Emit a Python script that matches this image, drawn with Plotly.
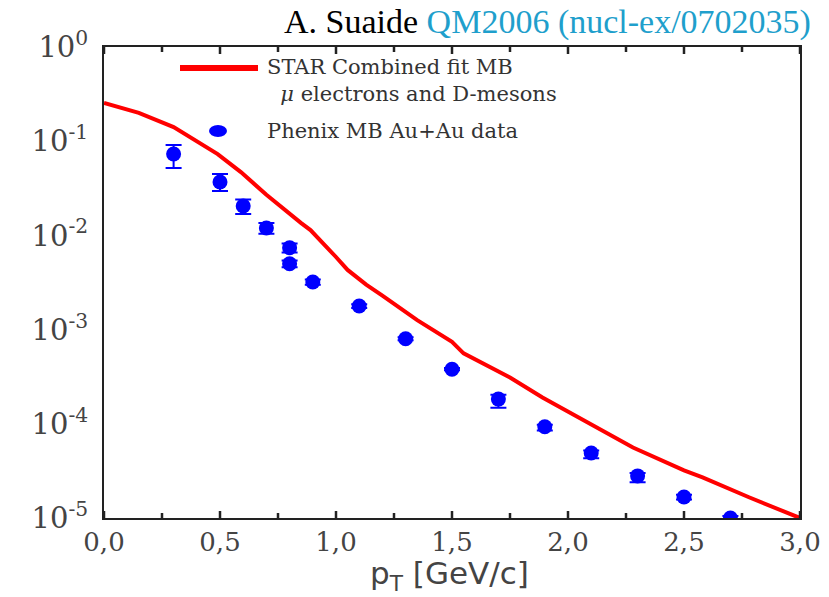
import math
import plotly.graph_objects as go

# STAR combined fit (mu, electrons and D-mesons), minimum bias
fit_pt = [0.0, 0.15, 0.30, 0.49, 0.59, 0.70, 0.85, 0.89, 1.00, 1.05, 1.13, 1.20,
          1.35, 1.50, 1.55, 1.75, 1.89, 2.00, 2.28, 2.50, 2.58, 2.78, 3.00]
fit_val = [0.255, 0.20, 0.141, 0.073, 0.047, 0.027, 0.0135, 0.0114, 0.0059, 0.0043,
           0.0030, 0.0023, 0.00126, 0.00074, 0.00056, 0.00031, 0.00019, 0.000134,
           5.6e-5, 3.2e-5, 2.7e-5, 1.66e-5, 1.0e-5]

# PHENIX minimum-bias Au+Au data
phx_pt = [0.3, 0.5, 0.6, 0.7, 0.8, 0.8, 0.9, 1.1, 1.3, 1.5, 1.7, 1.9, 2.1, 2.3, 2.5, 2.7]
phx_val = [0.073, 0.0369, 0.0205, 0.012, 0.0074, 0.0050, 0.0032, 0.00178, 0.00080,
           0.00038, 0.000183, 9.3e-5, 4.9e-5, 2.8e-5, 1.67e-5, 1.0e-5]
phx_err_up = [0.018, 0.008, 0.0035, 0.0015, 0.0008, 0.0004, 0.0002, 0.00008, 0.00003,
              0.00001, 0.00002, 0.000005, 0.000003, 0.000002, 0.000001, 0.0000005]
phx_err_dn = [0.021, 0.0073, 0.0036, 0.0016, 0.0008, 0.0004, 0.0002, 0.00008, 0.00003,
              0.00001, 0.000035, 0.000008, 0.000006, 0.000004, 0.000001, 0.0000005]

x_ticks = [0.0, 0.5, 1.0, 1.5, 2.0, 2.5, 3.0]
x_labels = ["0,0", "0,5", "1,0", "1,5", "2,0", "2,5", "3,0"]
x_minor = [0.25, 0.75, 1.25, 1.75, 2.25, 2.75]
y_ticks = [1e-5, 1e-4, 1e-3, 1e-2, 1e-1, 1]
y_labels = ["10<sup>-5</sup>", "10<sup>-4</sup>", "10<sup>-3</sup>",
            "10<sup>-2</sup>", "10<sup>-1</sup>", "10<sup>0</sup>"]
y_minor = [m * 10.0 ** e for e in range(-5, 0) for m in range(2, 10)]

X_RANGE = [0, 3]
Y_RANGE = [-5, 0]

W, H = 829, 597
ML, MR, MT, MB = 104, 29, 47, 79
PW, PH = W - ML - MR, H - MT - MB
AX = "#222222"


def px(x):
    return (x - ML) / PW


def py(y):
    return (H - MB - y) / PH


fig = go.Figure()
fig.add_trace(go.Scatter(
    x=fit_pt, y=fit_val, mode="lines",
    line=dict(color="#ff0000", width=4), showlegend=False))
fig.add_trace(go.Scatter(
    x=phx_pt, y=phx_val, mode="markers",
    marker=dict(color="#0000ff", size=15, symbol="circle"),
    error_y=dict(type="data", symmetric=False, array=phx_err_up,
                 arrayminus=phx_err_dn, color="#0000ff", thickness=2, width=8),
    showlegend=False))

fig.update_layout(
    xaxis=dict(
        range=X_RANGE, tickmode="array", tickvals=x_ticks, ticktext=x_labels,
        ticks="", showline=True, linecolor=AX, linewidth=2, mirror=True,
        showgrid=False, zeroline=False, automargin=False,
        tickfont=dict(family="DejaVu Serif", size=26, color="#444444"),
    ),
    yaxis=dict(
        type="log", range=Y_RANGE, tickmode="array", tickvals=y_ticks, ticktext=y_labels,
        ticks="", showline=True, linecolor=AX, linewidth=2, mirror=True,
        showgrid=False, zeroline=False, automargin=False,
        tickfont=dict(family="DejaVu Serif", size=29, color="#444444"),
        ticklabelstandoff=8,
    ),
)


# Inward tick marks on all four sides of the frame
def x_tick(v, length):
    for y0, y1 in ((0, length / PH), (1 - length / PH, 1)):
        fig.add_shape(type="line", xref="x", yref="y domain", x0=v, x1=v, y0=y0, y1=y1,
                      line=dict(color=AX, width=2.5), layer="above")


def y_tick(v, left_len, right_len):
    # shapes on a log axis are positioned in log10 units
    lv = math.log10(v)
    for x0, x1 in ((0, left_len / PW), (1 - right_len / PW, 1)):
        fig.add_shape(type="line", xref="x domain", yref="y", x0=x0, x1=x1, y0=lv, y1=lv,
                      line=dict(color=AX, width=2.5), layer="above")


for v in x_ticks:
    x_tick(v, 7)
for v in x_minor:
    x_tick(v, 5)
for v in y_ticks:
    y_tick(v, 15, 13)
for v in y_minor:
    y_tick(v, 6, 6)

# Axis title under the frame
fig.add_annotation(xref="paper", yref="paper", x=px(449), y=py(575),
                   xanchor="center", yanchor="middle", showarrow=False,
                   text="p<sub>T</sub> [GeV/c]",
                   font=dict(family="DejaVu Sans", size=31, color="#444444"))

# Legend block drawn inside the frame
legend_font = dict(family="DejaVu Serif", size=21, color="#333333")
fig.add_shape(type="line", xref="paper", yref="paper",
              x0=px(180), x1=px(258), y0=py(68), y1=py(68),
              line=dict(color="#ff0000", width=6))
fig.add_shape(type="circle", xref="paper", yref="paper",
              x0=px(209), x1=px(227), y0=py(137), y1=py(125),
              fillcolor="#0000ff", line=dict(color="#0000ff", width=0))
fig.add_annotation(xref="paper", yref="paper", x=px(265), y=py(80),
                   xanchor="left", yanchor="middle", align="left", showarrow=False,
                   text="STAR Combined fit MB<br>  <i>μ</i> electrons and D-mesons",
                   font=legend_font)
fig.add_annotation(xref="paper", yref="paper", x=px(265), y=py(131),
                   xanchor="left", yanchor="middle", showarrow=False,
                   text="Phenix MB Au+Au data", font=legend_font)

# Citation line above the frame
fig.add_annotation(xref="paper", yref="paper", x=px(813), y=py(22),
                   xanchor="right", yanchor="middle", showarrow=False,
                   text="A. Suaide <span style='color:#1f9fcc'>QM2006 (nucl-ex/0702035)</span>",
                   font=dict(family="Liberation Serif", size=34, color="#000000"))

fig.update_layout(
    width=W, height=H,
    margin=dict(l=ML, r=MR, t=MT, b=MB, autoexpand=False),
    paper_bgcolor="white", plot_bgcolor="white",
    showlegend=False,
)

fig.write_html("out.html")
